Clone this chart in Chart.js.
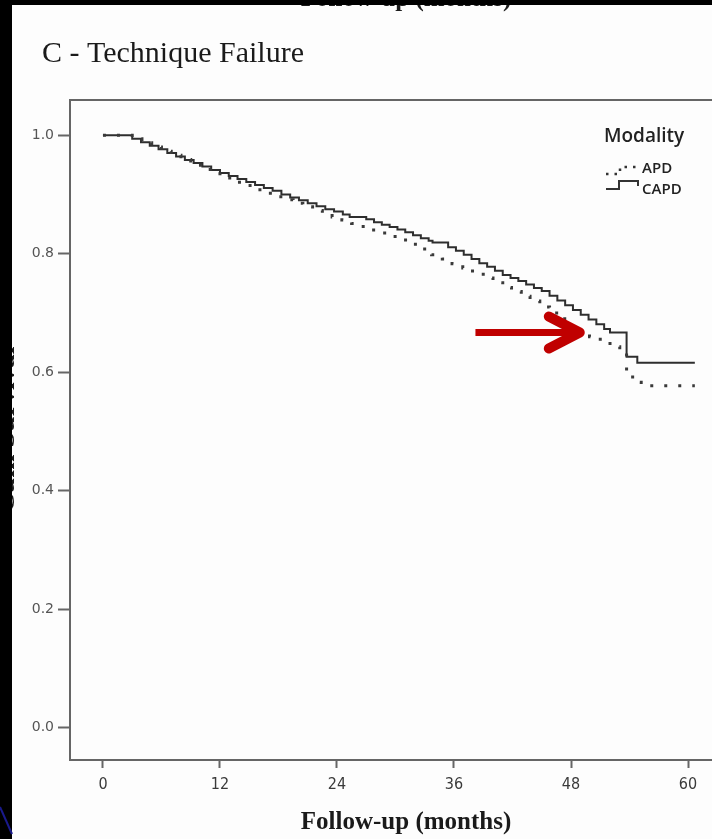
<!DOCTYPE html>
<html>
<head>
<meta charset="utf-8">
<script src="https://cdn.jsdelivr.net/npm/chart.js@4.4.1/dist/chart.umd.min.js"></script>
<style>
  html, body { margin: 0; padding: 0; background: #000; overflow: hidden; }
  canvas { display: block; }
</style>
</head>
<body>
<canvas id="km" width="712" height="839"></canvas>
<script>
// Kaplan-Meier steps (months, cumulative survival)
const capdMonths = [0, 3.0, 3.9, 4.8, 5.7, 6.6, 7.5, 8.4, 9.3, 10.2, 11.1, 12.0, 12.9, 13.8, 14.7, 15.6, 16.5, 17.4, 18.3, 19.2, 20.1, 21.0, 21.9, 22.8, 23.7, 24.6, 25.3, 27.0, 27.8, 28.6, 29.4, 30.2, 31.0, 31.8, 32.6, 33.4, 33.8, 35.4, 36.2, 37.0, 37.8, 38.6, 39.4, 40.2, 41.0, 41.8, 42.6, 43.4, 44.2, 45.0, 45.8, 46.6, 47.4, 48.2, 49.0, 49.8, 50.6, 51.4, 52.0, 53.7, 54.8, 60.7];
const capdSurvival = [1.000, 0.994, 0.988, 0.982, 0.976, 0.970, 0.964, 0.958, 0.953, 0.947, 0.941, 0.936, 0.931, 0.926, 0.921, 0.916, 0.911, 0.906, 0.900, 0.895, 0.890, 0.885, 0.880, 0.875, 0.871, 0.866, 0.862, 0.858, 0.853, 0.849, 0.845, 0.841, 0.836, 0.831, 0.826, 0.822, 0.819, 0.811, 0.805, 0.798, 0.791, 0.784, 0.778, 0.771, 0.764, 0.759, 0.754, 0.748, 0.742, 0.737, 0.729, 0.721, 0.713, 0.705, 0.697, 0.689, 0.681, 0.673, 0.667, 0.626, 0.616, 0.616];

const apdMonths = [0, 3.0, 4.0, 5.0, 6.0, 7.0, 8.0, 9.0, 10.0, 11.0, 12.0, 13.0, 14.0, 15.4, 16.5, 17.5, 18.5, 19.5, 20.5, 21.5, 22.5, 23.5, 24.5, 25.5, 26.5, 27.5, 28.4, 29.4, 30.5, 31.5, 32.6, 33.7, 34.8, 35.8, 36.9, 37.9, 39.0, 40.0, 41.0, 41.9, 42.9, 43.8, 44.8, 45.8, 46.8, 47.9, 48.9, 49.9, 51.0, 52.0, 53.0, 53.7, 54.6, 55.2, 60.7];
const apdSurvival = [1.000, 0.994, 0.987, 0.980, 0.973, 0.966, 0.959, 0.952, 0.945, 0.939, 0.932, 0.925, 0.915, 0.908, 0.902, 0.896, 0.891, 0.885, 0.879, 0.873, 0.867, 0.862, 0.857, 0.851, 0.846, 0.840, 0.835, 0.829, 0.823, 0.816, 0.808, 0.798, 0.791, 0.783, 0.776, 0.768, 0.759, 0.751, 0.743, 0.736, 0.728, 0.720, 0.710, 0.700, 0.690, 0.679, 0.668, 0.660, 0.651, 0.643, 0.635, 0.592, 0.583, 0.577, 0.577];

const seriesNames = ['APD', 'CAPD'];
const xTickLabels = [0, 12, 24, 36, 48, 60];
const yTickLabels = [0.0, 0.2, 0.4, 0.6, 0.8, 1.0];

const chartTitle = 'C - Technique Failure';
const xTitle = 'Follow-up (months)';
const yTitle = 'Cum Survival';
const legendTitle = 'Modality';

const toPoints = (xs, ys) => xs.map((m, i) => ({ x: m, y: ys[i] }));

// everything that is not a plotted series: frame top, texts, legend, arrow, slide edges
const decor = {
    id: 'decor',
    beforeDraw(chart) {
        const ctx = chart.ctx;
        ctx.save();
        ctx.fillStyle = '#fdfdfd';
        ctx.fillRect(0, 0, chart.width, chart.height);
        ctx.restore();
    },
    afterDraw(chart) {
        const ctx = chart.ctx;
        const area = chart.chartArea;
        const xs = chart.scales.x, ys = chart.scales.y;
        ctx.save();

        // top of the frame
        ctx.strokeStyle = '#666';
        ctx.lineWidth = 2;
        ctx.beginPath();
        ctx.moveTo(area.left, area.top);
        ctx.lineTo(area.right, area.top);
        ctx.stroke();

        // titles
        ctx.fillStyle = '#1a1a1a';
        ctx.textBaseline = 'alphabetic';
        ctx.textAlign = 'left';
        ctx.font = '30px "Liberation Serif", "Times New Roman", serif';
        ctx.fillText(chartTitle, 42, 62);

        ctx.textAlign = 'center';
        ctx.font = 'bold 25px "Liberation Serif", "Times New Roman", serif';
        ctx.fillText(xTitle, 406, 829);
        ctx.fillText(xTitle, 406, 6);   // cut-off title of the panel above

        ctx.save();
        ctx.translate(14, 430);
        ctx.rotate(-Math.PI / 2);
        ctx.font = 'bold 28px "Liberation Serif", "Times New Roman", serif';
        ctx.fillText(yTitle, 0, 0);
        ctx.restore();

        // legend
        ctx.textAlign = 'left';
        ctx.fillStyle = '#222';
        ctx.font = '600 19px "Open Sans", "DejaVu Sans", sans-serif';
        ctx.fillText(legendTitle, 604, 142);
        ctx.font = '600 15px "Open Sans", "DejaVu Sans", sans-serif';
        ctx.fillText(seriesNames[0], 642, 173);
        ctx.fillText(seriesNames[1], 642, 194);

        ctx.strokeStyle = '#333';
        ctx.lineWidth = 2.5;
        ctx.setLineDash([2.5, 6]);
        ctx.beginPath();
        ctx.moveTo(606, 174);
        ctx.lineTo(620, 174);
        ctx.lineTo(620, 167);
        ctx.lineTo(640, 167);
        ctx.stroke();
        ctx.setLineDash([]);
        ctx.lineWidth = 2;
        ctx.beginPath();
        ctx.moveTo(606, 189);
        ctx.lineTo(619, 189);
        ctx.lineTo(619, 181);
        ctx.lineTo(638, 181);
        ctx.lineTo(638, 186);
        ctx.stroke();

        // red arrow pointing at the APD curve
        const tipX = xs.getPixelForValue(48.9), tipY = ys.getPixelForValue(0.667);
        const tailX = xs.getPixelForValue(38.2);
        ctx.strokeStyle = '#c00000';
        ctx.lineCap = 'butt';
        ctx.lineWidth = 7;
        ctx.beginPath();
        ctx.moveTo(tailX, tipY);
        ctx.lineTo(tipX - 8, tipY);
        ctx.stroke();
        ctx.lineCap = 'round';
        ctx.lineJoin = 'round';
        ctx.lineWidth = 10;
        ctx.beginPath();
        ctx.moveTo(tipX - 31, tipY - 16);
        ctx.lineTo(tipX, tipY);
        ctx.lineTo(tipX - 31, tipY + 16);
        ctx.stroke();

        // slide edges
        ctx.fillStyle = '#000';
        ctx.fillRect(0, 0, 12, chart.height);
        ctx.fillRect(0, 0, chart.width, 5);
        ctx.strokeStyle = '#1a1a8c';
        ctx.lineWidth = 2;
        ctx.lineCap = 'butt';
        ctx.beginPath();
        ctx.moveTo(0, 807);
        ctx.lineTo(12, 834);
        ctx.stroke();

        ctx.restore();
    }
};

const chart = new Chart(document.getElementById('km'), {
    type: 'line',
    data: {
        datasets: [
            {
                label: seriesNames[0],
                data: toPoints(apdMonths, apdSurvival),
                borderColor: '#3a3a3a',
                borderWidth: 3,
                borderDash: [3, 11],
                stepped: true,
                pointRadius: 0,
                fill: false
            },
            {
                label: seriesNames[1],
                data: toPoints(capdMonths, capdSurvival),
                borderColor: '#2e2e2e',
                borderWidth: 2,
                stepped: true,
                pointRadius: 0,
                fill: false
            }
        ]
    },
    options: {
        responsive: false,
        animation: false,
        devicePixelRatio: 1,
        layout: { padding: { top: 100, left: 0, right: 0, bottom: 0 } },
        plugins: {
            legend: { display: false },
            tooltip: { enabled: false },
            title: { display: false }
        },
        scales: {
            x: {
                type: 'linear',
                min: -3.38,
                max: 62.46,
                afterBuildTicks: (axis) => { axis.ticks = xTickLabels.map(v => ({ value: v })); },
                afterFit: (axis) => { axis.height = 79; },
                grid: { drawOnChartArea: false, tickLength: 8, tickWidth: 2, tickColor: '#666' },
                border: { color: '#666', width: 2 },
                ticks: {
                    autoSkip: false,
                    maxRotation: 0,
                    padding: 7,
                    color: '#3a3a3a',
                    font: { family: '"DejaVu Sans Condensed", "Liberation Sans Narrow", "Liberation Sans", sans-serif', size: 16 }
                }
            },
            y: {
                type: 'linear',
                min: -0.0543,
                max: 1.0593,
                afterBuildTicks: (axis) => { axis.ticks = yTickLabels.map(v => ({ value: v })); },
                afterFit: (axis) => { axis.width = 70; },
                grid: { drawOnChartArea: false, tickLength: 12, tickWidth: 2, tickColor: '#666' },
                border: { color: '#666', width: 2 },
                ticks: {
                    autoSkip: false,
                    padding: 4,
                    color: '#555',
                    font: { family: '"DejaVu Sans", sans-serif', size: 14 },
                    callback: (v) => Number(v).toFixed(1)
                }
            }
        }
    },
    plugins: [decor]
});
</script>
</body>
</html>
